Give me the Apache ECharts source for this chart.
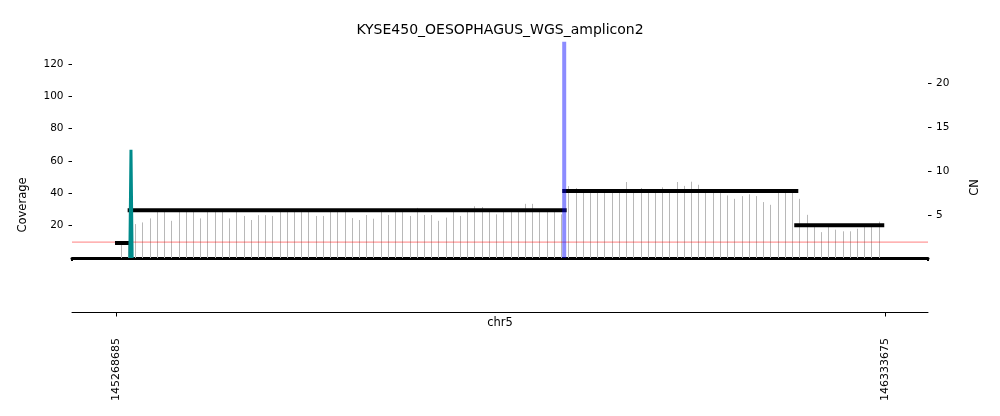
<!DOCTYPE html>
<html><head><meta charset="utf-8">
<script src="https://cdn.jsdelivr.net/npm/echarts@6/dist/echarts.min.js"></script>
<style>html,body{margin:0;padding:0;background:#fff}#c{width:1000px;height:416px}</style>
</head><body><div id="c"></div>
<script>
const chartTitle = 'KYSE450_OESOPHAGUS_WGS_amplicon2';
const chromName = 'chr5';
// bin centres (kb)
const binCentersKb = [
145275,145285,145295,145305,145315,145325,145335,145345,145355,145365,
145375,145385,145395,145405,145415,145425,145435,145445,145455,145465,
145475,145485,145495,145505,145515,145525,145535,145545,145555,145565,
145575,145585,145595,145605,145615,145625,145635,145645,145655,145665,
145675,145685,145695,145705,145715,145725,145735,145745,145755,145765,
145775,145785,145795,145805,145815,145825,145835,145845,145855,145865,
145875,145885,145895,145905,145915,145925,145935,145945,145955,145965,
145975,145985,145995,146005,146015,146025,146035,146045,146055,146065,
146075,146085,146095,146105,146115,146125,146135,146145,146155,146165,
146175,146185,146195,146205,146215,146225,146235,146245,146255,146265,
146275,146285,146295,146305,146315,146325];
const coverage = [
9, 8, 21, 22, 24.5, 29, 29, 23, 29, 29,
29, 24.5, 29, 29, 29, 24.5, 29, 26, 23.5, 26.5,
26.5, 26, 29, 29, 29, 29, 29, 26, 26, 29,
29, 29, 24.7, 23.5, 26.6, 24.3, 29, 26.6, 29, 29,
26, 31, 26.6, 26.6, 23, 25, 29, 26, 29, 32,
31.5, 29, 27, 29, 29, 29, 33.5, 33.5, 29, 29,
29, 27, 44.5, 43.3, 41.5, 41.5, 41.5, 41.5, 41.5, 41.5,
47, 41.5, 43.3, 41.5, 41.5, 43.7, 41.5, 47, 44.6, 47.2,
45.3, 41.5, 41.5, 41.5, 38.7, 36.6, 38.3, 39.4, 38.3, 34.6,
32.9, 41.5, 41.5, 41.5, 36.6, 26.7, 19.5, 16, 20, 17.5,
16.5, 16.5, 18.1, 20, 20, 22.5];
// copy-number segments
const cnSegStart = [145267000, 145284500, 145886600, 146208000];
const cnSegEnd   = [145289000, 145892700, 146213600, 146332700];
const cnSegValue = [1.9, 5.6, 7.8, 3.9];
const cnNormal = 2;
// amplicon peak (teal)
const peakPos = [145287500, 145289100, 145290700];
const peakCov = [0, 67, 0];
// breakpoint marker (blue)
const breakPos = 145889300;
// axes
const xMin = 145207391, xMax = 146393302;
const covMax = 133.8, cnMin = 0.2, cnMax = 24.7;
const covTicks = [20, 40, 60, 80, 100, 120];
const cnTicks = [5, 10, 15, 20];
const xTicks = [145268685, 146333675];

const FONT = 'DejaVu Sans';
const chart = echarts.init(document.getElementById('c'), null, {renderer: 'canvas'});

const lineItem = (x1, y1, x2, y2, stroke, w) => ({type: 'line', shape: {x1, y1, x2, y2}, style: {stroke, lineWidth: w}});

chart.setOption({
  animation: false,
  backgroundColor: '#fff',
  grid: [
    {left: 72, right: 72, top: 41.7, height: 216.3, containLabel: false, outerBoundsMode: 'none'},
    {left: 72, right: 72, top: 311, height: 1, containLabel: false, outerBoundsMode: 'none'}
  ],
  xAxis: [
    {type: 'value', gridIndex: 0, min: xMin, max: xMax,
     axisLine: {show: true, onZero: false, lineStyle: {color: '#000', width: 3}},
     axisTick: {show: true, customValues: [xMin, xMax], length: 3, lineStyle: {color: '#000', width: 2}},
     axisLabel: {show: false}, splitLine: {show: false}},
    {type: 'value', gridIndex: 1, min: xMin, max: xMax, position: 'bottom',
     axisLine: {show: true, onZero: false, lineStyle: {color: '#000', width: 1}},
     axisTick: {show: true, customValues: xTicks, length: 4.5, lineStyle: {color: '#000', width: 1}},
     axisLabel: {show: true, customValues: xTicks, rotate: 90, margin: 26, fontSize: 11, color: '#000', fontFamily: FONT,
       formatter: v => String(v)},
     splitLine: {show: false}}
  ],
  yAxis: [
    {type: 'value', gridIndex: 0, position: 'left', min: 0, max: covMax,
     axisLine: {show: false},
     axisTick: {show: true, customValues: covTicks, length: 3.5, lineStyle: {color: '#000', width: 1}},
     axisLabel: {show: true, customValues: covTicks, margin: 8.5, fontSize: 10.5, color: '#000', fontFamily: FONT},
     splitLine: {show: false}},
    {type: 'value', gridIndex: 0, position: 'right', min: cnMin, max: cnMax,
     axisLine: {show: false},
     axisTick: {show: true, customValues: cnTicks, length: 3.5, lineStyle: {color: '#000', width: 1}},
     axisLabel: {show: true, customValues: cnTicks, margin: 8, fontSize: 10.5, color: '#000', fontFamily: FONT},
     splitLine: {show: false}},
    {type: 'value', gridIndex: 1, min: 0, max: 1, show: false}
  ],
  graphic: [
    {type: 'text', x: 500, y: 30.5, style: {text: chartTitle, fontSize: 14, fontFamily: FONT, fill: '#000', align: 'center', verticalAlign: 'middle'}, silent: true},
    {type: 'text', x: 500, y: 323, style: {text: chromName, fontSize: 11.5, fontFamily: FONT, fill: '#000', align: 'center', verticalAlign: 'middle'}, silent: true},
    {type: 'text', x: 23, y: 205, rotation: Math.PI / 2, style: {text: 'Coverage', fontSize: 11.5, fontFamily: FONT, fill: '#000', align: 'center', verticalAlign: 'middle'}, silent: true},
    {type: 'text', x: 975, y: 187.5, rotation: Math.PI / 2, style: {text: 'CN', fontSize: 11.5, fontFamily: FONT, fill: '#000', align: 'center', verticalAlign: 'middle'}, silent: true}
  ],
  series: [
    {type: 'custom', xAxisIndex: 0, yAxisIndex: 0, z: 1, silent: true, clip: false,
     data: binCentersKb.map((k, i) => [k * 1000, coverage[i]]),
     renderItem: (params, api) => {
       const p0 = api.coord([api.value(0), 0]);
       const p1 = api.coord([api.value(0), api.value(1)]);
       const x = Math.round(p0[0]) + 0.5;
       return lineItem(x, p0[1], x, p1[1], '#b8b8b8', 1);
     }},
    {type: 'line', xAxisIndex: 0, yAxisIndex: 1, z: 2, silent: true, symbol: 'none',
     data: [[xMin, cnNormal], [xMax, cnNormal]],
     lineStyle: {color: 'rgba(255,0,0,0.5)', width: 1}},
    {type: 'custom', xAxisIndex: 0, yAxisIndex: 1, z: 3, silent: true, clip: false,
     data: cnSegStart.map((s, i) => [s, cnSegEnd[i], cnSegValue[i]]),
     encode: {x: [0, 1], y: 2},
     renderItem: (params, api) => {
       const a = api.coord([api.value(0), api.value(2)]);
       const b = api.coord([api.value(1), api.value(2)]);
       return lineItem(a[0], a[1], b[0], b[1], '#000', 4);
     }},
    {type: 'line', xAxisIndex: 0, yAxisIndex: 0, z: 4, silent: true, symbol: 'none',
     data: peakPos.map((p, i) => [p, peakCov[i]]),
     lineStyle: {color: '#008b8b', width: 3}},
    {type: 'line', xAxisIndex: 0, yAxisIndex: 0, z: 5, silent: true, symbol: 'none',
     data: [[breakPos, 0], [breakPos, covMax]],
     lineStyle: {color: 'rgba(0,0,255,0.45)', width: 4}}
  ]
});
</script>
</body></html>
